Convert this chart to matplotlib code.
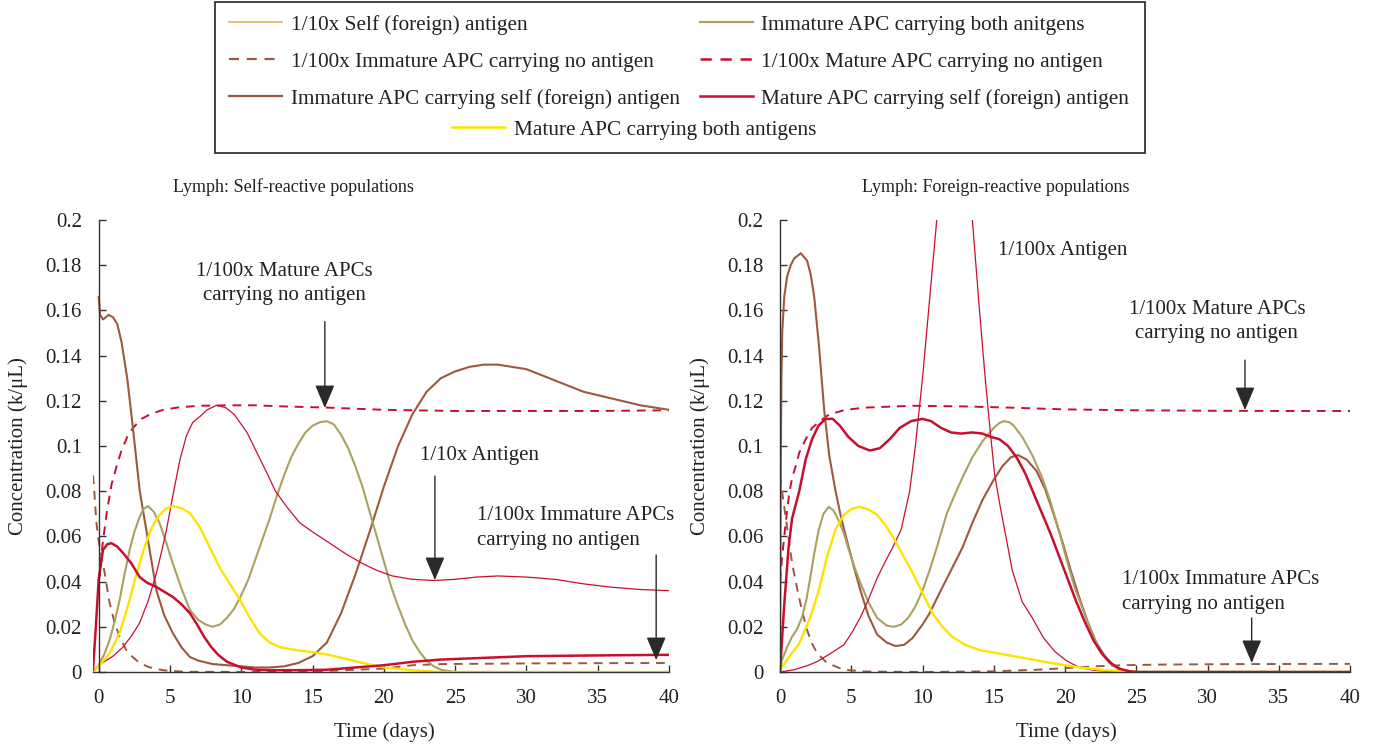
import numpy as np
import matplotlib
matplotlib.use("Agg")
import matplotlib.pyplot as plt
from matplotlib.lines import Line2D
from matplotlib.patches import Rectangle
from matplotlib.ticker import FuncFormatter, MultipleLocator

plt.rcParams['font.family'] = ['Liberation Serif', 'DejaVu Serif']
plt.rcParams['text.color'] = '#222222'

# ------------------------------------------------------------------
# Valores (tiempo en días, concentración en k/uL)
# ------------------------------------------------------------------

# Panel izquierdo: poblaciones auto-reactivas
t_imm_self = [0, 0.1, 0.3, 0.7, 1.0, 1.3, 1.6, 2.0, 2.4, 2.87, 3.2, 3.6, 4.05, 4.6, 5.2, 5.8, 6.4, 7, 8, 9,
              10, 11, 12, 13, 14, 15, 16, 17, 18, 19, 20, 21, 22, 23, 24, 25, 26, 27, 28, 29, 30, 32, 34, 36, 38, 40]
v_imm_self = [0.166, 0.158, 0.156, 0.158, 0.157, 0.154, 0.146, 0.13, 0.108, 0.0805, 0.068, 0.053, 0.036, 0.025,
              0.0172, 0.011, 0.0066, 0.005, 0.0035, 0.003, 0.0025, 0.002, 0.002, 0.0025, 0.004, 0.007, 0.013,
              0.026, 0.043, 0.062, 0.082, 0.1, 0.114, 0.124, 0.13, 0.133, 0.135, 0.136, 0.136, 0.135, 0.134,
              0.129, 0.124, 0.121, 0.118, 0.116]

t_imm_both = [-0.4, 0, 0.4, 0.77, 1.1, 1.47, 1.8, 2.17, 2.5, 2.87, 3.15, 3.46, 3.85, 4.27, 4.7, 5.2, 5.8, 6.4, 7,
              7.5, 8, 8.5, 9, 9.5, 10, 10.5, 11, 11.5, 12, 12.5, 13, 13.5, 14, 14.5, 15, 15.5, 16, 16.5, 17, 17.5,
              18, 18.5, 19, 19.5, 20, 20.5, 21, 21.5, 22, 22.5, 23, 23.5, 24, 25, 40]
v_imm_both = [0, 0.003, 0.008, 0.0142, 0.022, 0.0319, 0.043, 0.054, 0.062, 0.0686, 0.0722, 0.0734, 0.071, 0.0659,
              0.058, 0.048, 0.037, 0.0274, 0.023, 0.021, 0.020, 0.021, 0.024, 0.028, 0.034, 0.041, 0.05, 0.059,
              0.068, 0.078, 0.087, 0.095, 0.101, 0.106, 0.109, 0.1105, 0.111, 0.1095, 0.105, 0.099, 0.091,
              0.082, 0.071, 0.06, 0.049, 0.038, 0.029, 0.021, 0.014, 0.009, 0.005, 0.0025, 0.001, 0, 0]

t_mat_both = [-0.4, 0.07, 0.77, 1.47, 1.8, 2.17, 2.5, 2.87, 3.2, 3.57, 3.9, 4.27, 4.7, 5.2, 5.8, 6.4, 7.1, 7.8,
              8.5, 9.2, 9.9, 10.6, 11.3, 12, 12.7, 14, 15, 16.2, 17.4, 18.5, 20, 22, 24, 40]
v_mat_both = [0, 0.003, 0.0084, 0.0173, 0.024, 0.0319, 0.04, 0.048, 0.055, 0.0615, 0.066, 0.0695, 0.0722, 0.0734,
              0.0725, 0.0703, 0.064, 0.055, 0.046, 0.039, 0.032, 0.024, 0.017, 0.013, 0.011, 0.0095, 0.0088,
              0.0075, 0.0057, 0.004, 0.002, 0.0008, 0, 0]

t_mat_self = [-0.4, -0.2, 0, 0.3, 0.6, 0.89, 1.3, 1.7, 2.3, 2.87, 3.4, 4.05, 4.6, 5.2, 5.8, 6.4, 6.9, 7.4, 7.9,
              8.4, 9, 10, 11, 12, 14, 16, 18, 20, 22, 24, 26, 28, 30, 33, 36, 40]
v_mat_self = [0.001, 0.02, 0.041, 0.054, 0.0565, 0.057, 0.0555, 0.0527, 0.048, 0.042, 0.0395, 0.0376, 0.0355,
              0.0332, 0.03, 0.026, 0.021, 0.0155, 0.011, 0.0075, 0.0045, 0.002, 0.001, 0.0008, 0.0008, 0.001,
              0.002, 0.003, 0.0045, 0.0055, 0.006, 0.0065, 0.007, 0.0072, 0.0074, 0.0076]

t_ag_self = [0, 1, 1.7, 2.3, 2.87, 3.5, 4.05, 4.4, 4.75, 5.2, 5.7, 6.15, 6.6, 7.09, 7.6, 8.26, 8.9, 9.5, 10.4,
             11.1, 11.8, 12.4, 13.2, 14.1, 15, 16.2, 17.4, 18.5, 19.5, 20.6, 22, 23.5, 25, 26.5, 28, 30, 32, 34,
             36, 38, 40]
v_ag_self = [0.003, 0.007, 0.011, 0.016, 0.0217, 0.032, 0.0438, 0.053, 0.0628, 0.078, 0.094, 0.1045, 0.1105,
             0.113, 0.116, 0.118, 0.117, 0.114, 0.106, 0.097, 0.088, 0.08, 0.073, 0.066, 0.062, 0.057, 0.052,
             0.048, 0.045, 0.0425, 0.041, 0.0405, 0.041, 0.042, 0.0425, 0.042, 0.041, 0.039, 0.0375, 0.0365,
             0.036]

t_mat_none = [0, 0.3, 0.6, 0.9, 1.3, 1.6, 2, 2.4, 3, 3.6, 4.5, 5.5, 7, 9, 11, 13, 16, 20, 25, 30, 35, 40]
v_mat_none = [0.04, 0.058, 0.072, 0.083, 0.092, 0.098, 0.104, 0.108, 0.112, 0.114, 0.116, 0.117, 0.1178, 0.118,
              0.118, 0.1175, 0.117, 0.116, 0.1155, 0.1155, 0.1155, 0.1158]

t_imm_none = [-0.4, -0.3, -0.16, 0, 0.2, 0.42, 0.75, 1.12, 1.5, 1.94, 2.4, 2.87, 3.5, 4.5, 6, 12, 16, 20, 22, 24,
              30, 40]
v_imm_none = [0.087, 0.079, 0.066, 0.058, 0.051, 0.0438, 0.031, 0.0217, 0.015, 0.0097, 0.0065, 0.004, 0.0022,
              0.0008, 0.0001, 0, 0.0005, 0.0015, 0.003, 0.0035, 0.0038, 0.004]

# Panel derecho: poblaciones reactivas a antígeno extraño
tr_imm_for = [0, 0.05, 0.1, 0.16, 0.3, 0.5, 0.75, 1.0, 1.46, 1.9, 2.15, 2.4, 2.74, 3.1, 3.45, 3.9, 4.3, 4.83,
              5.25, 5.65, 6.2, 6.82, 7.5, 8.1, 8.7, 9.3, 10, 10.5, 11.2, 12, 12.8, 13.5, 14.2, 14.9, 15.6, 16.2,
              16.7, 17.3, 18, 18.6, 19.2, 19.8, 20.4, 21, 21.6, 22.2, 22.8, 23.4, 24, 25, 40]
vr_imm_for = [0, 0.09, 0.13, 0.151, 0.166, 0.175, 0.18, 0.183, 0.1853, 0.182, 0.176, 0.166, 0.144, 0.116, 0.096,
              0.08, 0.068, 0.055, 0.045, 0.036, 0.025, 0.0165, 0.013, 0.0115, 0.012, 0.015, 0.021, 0.026, 0.035,
              0.045, 0.055, 0.066, 0.076, 0.084, 0.091, 0.095, 0.096, 0.094, 0.089, 0.081, 0.07, 0.058, 0.045,
              0.033, 0.022, 0.013, 0.007, 0.003, 0.001, 0, 0]

tr_imm_both = [0, 0.14, 0.5, 0.84, 1.2, 1.55, 1.85, 2.13, 2.42, 2.72, 3.05, 3.42, 3.75, 4.12, 4.5, 4.83, 5.25,
               5.65, 6.2, 6.82, 7.5, 8, 8.5, 9, 9.5, 10, 10.5, 11, 11.7, 12.3, 12.8, 13.5, 14.2, 14.6, 15, 15.4,
               15.7, 16.1, 16.4, 17, 17.7, 18.4, 19, 19.6, 20.1, 20.7, 21.3, 21.9, 22.5, 23.1, 23.7, 24.5, 40]
vr_imm_both = [0, 0.0053, 0.011, 0.0155, 0.019, 0.0243, 0.032, 0.042, 0.053, 0.063, 0.07, 0.0731, 0.0715, 0.067,
               0.061, 0.054, 0.046, 0.0393, 0.031, 0.0239, 0.0205, 0.02, 0.021, 0.024, 0.029, 0.036, 0.045, 0.055,
               0.07, 0.079, 0.086, 0.095, 0.102, 0.105, 0.108, 0.1102, 0.111, 0.1105, 0.109, 0.104, 0.096, 0.086,
               0.075, 0.062, 0.05, 0.037, 0.027, 0.017, 0.009, 0.004, 0.0015, 0, 0]

tr_mat_both = [0, 0.14, 0.84, 1.3, 1.55, 2.13, 2.72, 3.3, 3.89, 4.48, 5, 5.53, 6.2, 6.82, 7.4, 7.9, 8.6, 9.3, 10,
               10.7, 11.4, 12.1, 13, 14, 15.5, 17.3, 19, 21, 23, 25, 40]
vr_mat_both = [0, 0.0022, 0.0084, 0.012, 0.0155, 0.0243, 0.036, 0.051, 0.063, 0.0695, 0.072, 0.0731, 0.072,
               0.0695, 0.065, 0.06, 0.052, 0.044, 0.035, 0.026, 0.02, 0.0155, 0.012, 0.0097, 0.008, 0.006, 0.004,
               0.002, 0.0007, 0, 0]

tr_mat_for = [0, 0.3, 0.6, 0.85, 1.35, 1.8, 2.25, 2.7, 3.2, 3.7, 4.2, 4.8, 5.5, 6.3, 7, 7.7, 8.4, 9.2, 10, 10.6,
              11.3, 12, 12.7, 13.5, 14.2, 14.8, 15.4, 16, 16.6, 17.2, 17.8, 18.4, 19, 19.6, 20.2, 20.8, 21.4, 22,
              22.6, 23.2, 23.8, 24.5, 25, 40]
vr_mat_for = [0, 0.03, 0.055, 0.068, 0.08, 0.094, 0.103, 0.109, 0.112, 0.112, 0.109, 0.104, 0.1, 0.098, 0.099,
              0.103, 0.108, 0.111, 0.112, 0.111, 0.108, 0.106, 0.1055, 0.106, 0.1055, 0.104, 0.103, 0.1, 0.095,
              0.088, 0.079, 0.07, 0.061, 0.051, 0.041, 0.031, 0.022, 0.014, 0.008, 0.004, 0.0015, 0.0003, 0, 0]

tr_ag = [0, 1, 2, 2.6, 3.5, 4.48, 5.1, 5.65, 6.2, 6.82, 7.4, 7.9, 8.5, 9.1, 9.5, 10, 10.5, 11, 11.5, 12, 12.5, 13,
         13.5, 14, 14.4, 14.7, 15.05, 15.4, 16.3, 17, 17.7, 18.5, 19.3, 20.1, 21, 22, 23, 25, 40]
vr_ag = [0, 0.001, 0.003, 0.0046, 0.008, 0.012, 0.018, 0.0243, 0.032, 0.0416, 0.049, 0.055, 0.063, 0.08, 0.1,
         0.13, 0.165, 0.2, 0.24, 0.26, 0.26, 0.24, 0.2, 0.16, 0.13, 0.11, 0.088, 0.075, 0.045, 0.031, 0.024,
         0.015, 0.009, 0.005, 0.002, 0.0008, 0.0003, 0, 0]

tr_mat_none = [0, 0.15, 0.4, 0.65, 0.85, 1.1, 1.35, 1.8, 2.25, 2.8, 3.45, 4.6, 6, 9.3, 13, 16, 20, 25, 30, 35, 40]
vr_mat_none = [0.04, 0.051, 0.066, 0.079, 0.086, 0.091, 0.097, 0.103, 0.108, 0.111, 0.114, 0.116, 0.117, 0.1178,
               0.1175, 0.117, 0.1162, 0.1158, 0.1156, 0.1155, 0.1155]

tr_imm_none = [0, 0.14, 0.5, 0.85, 1.2, 1.55, 1.9, 2.25, 2.6, 3.3, 4.48, 6, 10, 15, 18, 20, 22, 24, 27, 32, 40]
vr_imm_none = [0.087, 0.08, 0.064, 0.048, 0.037, 0.027, 0.0186, 0.0125, 0.0084, 0.004, 0.001, 0.0002, 0, 0.0003,
               0.001, 0.0017, 0.0025, 0.003, 0.0033, 0.0035, 0.0036]

# ------------------------------------------------------------------
# Colores y estilos
# ------------------------------------------------------------------
BROWN = '#9b5a3e'
OLIVE = '#aaa160'
CRIMSON = '#c8102e'
YELLOW = '#ffe300'
TAN = '#ebbb7d'
AXC = '#333333'
DASH = (0, (4.5, 3.5))
SERIF = 'Liberation Serif'

W, H = 1378, 746
fig = plt.figure(figsize=(W / 100, H / 100), dpi=100)


def px_axes(x0, x1, y0, y1):
    return fig.add_axes([x0 / W, 1 - y1 / H, (x1 - x0) / W, (y1 - y0) / H])


axL = px_axes(93, 669, 220, 672)
axR = px_axes(780, 1350, 220, 672)

# panel izquierdo
axL.plot(t_imm_none, v_imm_none, color=BROWN, lw=1.4, ls=DASH)
axL.plot(t_mat_none, v_mat_none, color=CRIMSON, lw=1.4, ls=DASH)
axL.plot(t_imm_self, v_imm_self, color=BROWN, lw=1.5)
axL.plot(t_imm_both, v_imm_both, color=OLIVE, lw=1.5)
axL.plot(t_ag_self, v_ag_self, color=CRIMSON, lw=0.9)
axL.plot(t_mat_both, v_mat_both, color=YELLOW, lw=1.7)
axL.plot(t_mat_self, v_mat_self, color=CRIMSON, lw=1.8)

# panel derecho
axR.plot(tr_imm_none, vr_imm_none, color=BROWN, lw=1.4, ls=DASH)
axR.plot(tr_mat_none, vr_mat_none, color=CRIMSON, lw=1.4, ls=DASH)
axR.plot(tr_imm_for, vr_imm_for, color=BROWN, lw=1.5)
axR.plot(tr_imm_both, vr_imm_both, color=OLIVE, lw=1.5)
axR.plot(tr_ag, vr_ag, color=CRIMSON, lw=0.9)
axR.plot(tr_mat_both, vr_mat_both, color=YELLOW, lw=1.7)
axR.plot(tr_mat_for, vr_mat_for, color=CRIMSON, lw=1.8)

for ax, xmin in [(axL, -0.4), (axR, 0)]:
    ax.set_xlim(xmin, 40)
    ax.set_ylim(0, 0.2)
    ax.spines['top'].set_visible(False)
    ax.spines['right'].set_visible(False)
    ax.spines['left'].set_position(('data', 0))
    for s in ['left', 'bottom']:
        ax.spines[s].set_color(AXC)
        ax.spines[s].set_linewidth(1.0)
    ax.xaxis.set_major_locator(MultipleLocator(5))
    ax.yaxis.set_major_locator(MultipleLocator(0.02))
    ax.yaxis.set_major_formatter(FuncFormatter(lambda v, p: '%g' % round(v, 3)))
    ax.tick_params(axis='both', direction='in', length=5, width=1.0, color=AXC,
                   labelsize=15, labelcolor='#222222')
    ax.tick_params(axis='y', pad=12)
    ax.tick_params(axis='x', pad=12)
    ax.patch.set_alpha(0)

# títulos y rótulos de ejes
fig.text(293 / W, 1 - 187 / H, 'Lymph: Self-reactive populations', ha='center', va='center', fontsize=13)
fig.text(996 / W, 1 - 187 / H, 'Lymph: Foreign-reactive populations', ha='center', va='center', fontsize=13)
fig.text(18 / W, 1 - 446 / H, 'Concentration (k/μL)', rotation=90, ha='center', va='center', fontsize=15)
fig.text(700 / W, 1 - 446 / H, 'Concentration (k/μL)', rotation=90, ha='center', va='center', fontsize=15)
fig.text(384 / W, 1 - 732 / H, 'Time (days)', ha='center', va='center', fontsize=15)
fig.text(1066 / W, 1 - 732 / H, 'Time (days)', ha='center', va='center', fontsize=15)

# anotaciones
arrow = dict(arrowstyle='-|>,head_length=0.9,head_width=0.38', color='#2a2a2a', lw=1.0,
             shrinkA=0, shrinkB=0, mutation_scale=16)
ann_kw = dict(fontsize=15, linespacing=1.38)

axL.text(13.05, 0.172, '1/100x Mature APCs\ncarrying no antigen', ha='center', va='center', **ann_kw)
axL.annotate('', xy=(15.86, 0.1168), xytext=(15.86, 0.155), arrowprops=arrow)
axL.text(26.7, 0.0956, '1/10x Antigen', ha='center', va='center', **ann_kw)
axL.annotate('', xy=(23.58, 0.0407), xytext=(23.58, 0.0867), arrowprops=arrow)
axL.text(26.5, 0.0637, '1/100x Immature APCs\ncarrying no antigen', ha='left', va='center', **ann_kw)
axL.annotate('', xy=(39.1, 0.0053), xytext=(39.1, 0.0518), arrowprops=arrow)

axR.text(19.83, 0.1863, '1/100x Antigen', ha='center', va='center', **ann_kw)
axR.text(30.66, 0.155, '1/100x Mature APCs\ncarrying no antigen', ha='center', va='center', **ann_kw)
axR.annotate('', xy=(32.63, 0.1159), xytext=(32.63, 0.138), arrowprops=arrow)
axR.text(23.98, 0.0354, '1/100x Immature APCs\ncarrying no antigen', ha='left', va='center', **ann_kw)
axR.annotate('', xy=(33.1, 0.004), xytext=(33.1, 0.0239), arrowprops=arrow)

# leyenda en recuadro
fig.patches.append(Rectangle((215 / W, 1 - 153 / H), 930 / W, 151 / H, transform=fig.transFigure,
                             fill=False, edgecolor='#222222', lw=1.2))

h_leg = [Line2D([], [], color=TAN, lw=1.4),
         Line2D([], [], color=BROWN, lw=1.6, ls=DASH),
         Line2D([], [], color=BROWN, lw=1.6),
         Line2D([], [], color=OLIVE, lw=1.6),
         Line2D([], [], color=CRIMSON, lw=1.8, ls=DASH),
         Line2D([], [], color=CRIMSON, lw=1.8)]
l_leg = ['1/10x Self (foreign) antigen',
         '1/100x Immature APC carrying no antigen',
         'Immature APC carrying self (foreign) antigen',
         'Immature APC carrying both anitgens',
         '1/100x Mature APC carrying no antigen',
         'Mature APC carrying self (foreign) antigen']
leg_kw = dict(frameon=False, prop={'family': SERIF, 'size': 15.3}, handlelength=2.5, handletextpad=0.4,
              borderpad=0, borderaxespad=0, loc='upper left')
fig.legend(h_leg, l_leg, ncol=2, columnspacing=0.95, labelspacing=0.8,
           bbox_to_anchor=(229 / W, 1 - 15 / H), **leg_kw)
fig.legend([Line2D([], [], color=YELLOW, lw=1.8)], ['Mature APC carrying both antigens'],
           bbox_to_anchor=(452 / W, 1 - 120 / H), **leg_kw)

fig.savefig('out.png', dpi=100)
